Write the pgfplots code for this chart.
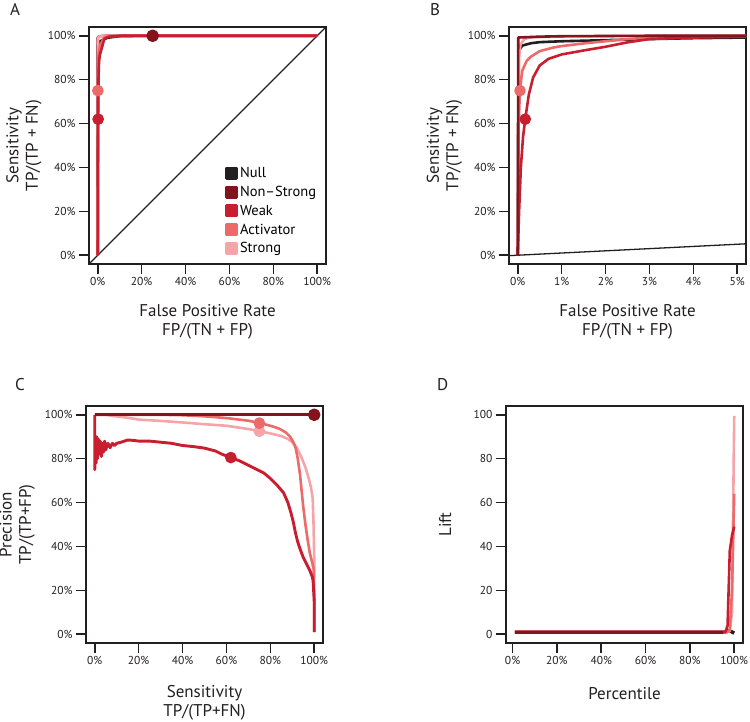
\documentclass[border=0pt]{standalone}
\usepackage{fontspec}
\setmainfont{PT Sans}
\usepackage{pgfplots}
\usepackage{pgfplotstable}
\pgfplotsset{compat=1.18}

\definecolor{nullc}{RGB}{35,31,32}
\definecolor{nonstrong}{RGB}{130,20,30}
\definecolor{weak}{RGB}{200,30,48}
\definecolor{activator}{RGB}{236,106,106}
\definecolor{strong}{RGB}{245,165,170}

% ROC curves, x = FPR (%), y = sensitivity (%)
\pgfplotstableread{
x y
0 0
0.02 93
0.1 95.5
0.3 96.6
0.5 97.1
1 97.5
2 98
3 98.5
4 98.9
5.2 99.2
10 99.8
20 100
100 100
}\rocnull
\pgfplotstableread{
x y
0 0
0.01 99.2
0.5 99.6
1 99.8
3 100
100 100
}\rocnonstrong
\pgfplotstableread{
x y
0 0
0.03 20
0.07 40
0.12 54
0.17 62
0.25 73
0.35 81
0.5 86.5
0.7 89.5
1.0 91.5
1.5 93.3
2 95
2.5 97
3 98.5
4 99.2
5.2 99.6
10 100
100 100
}\rocweak
\pgfplotstableread{
x y
0 0
0.02 60
0.05 75
0.1 84
0.2 88.5
0.3 90.5
0.5 93
0.8 94.6
1 95.3
1.5 96.5
2 97.5
2.5 98.5
3 99.2
4 99.6
5.2 99.8
10 100
100 100
}\rocactivator
\pgfplotstableread{
x y
0 0
0.03 90
0.06 96
0.15 98.5
0.3 99.3
1 99.7
3 100
100 100
}\rocstrong

% precision-recall, x = sensitivity (%), y = precision (%)
\pgfplotstableread{
x y
0 100
0 75
0.3 88
0.6 78
0.9 90
1.2 80
1.6 89
2 82
2.5 88
3 81
3.5 87
4 83
4.5 88
5 84
6 87
7 85
8 87
9 86
10 87
12 87.5
15 88.5
18 88.3
20 88
25 88
30 87.5
35 87
40 86
45 85.5
50 84.8
55 83.5
58 82
62 80.5
66 79
70 77
74 75
77 73.5
80 71
83 68
86 64.5
88 60
89.5 55
90.5 51
91.5 46
92.5 42
93.5 39
95 35
96.5 32
98 29
99.2 26
99.5 24
100 15
100 1
}\prweak
\pgfplotstableread{
x y
0 100
30 100
40 99.8
50 99.3
60 98.5
70 97.3
75 96.3
80 95
84 93.7
87 92
89 90
90.5 87.5
91.5 85
92.5 80
93.5 73
94.3 65
95 58
96 50
97 43
98 37
99 33
99.7 30
100 20
100 1
}\practivator
\pgfplotstableread{
x y
0 100
5 100
8 99.5
12 99
16 98.5
20 97.8
25 97.5
30 97.2
40 96.5
50 95.7
60 95
70 93.5
75 92.5
80 91.5
85 90.3
88 89
90 87.5
92 85
94 81
96 76
97.5 71
98.5 67
99.3 62
99.7 50
100 35
100 25
}\prstrong

\pgfplotsset{
  rpanel/.style={
    scale only axis, width=237pt, height=237pt,
    axis line style={line width=1.7pt, color=nullc},
    tick align=outside, tick pos=left, major tick length=10pt,
    every tick/.style={line width=1.6pt, color=nullc},
    tick label style={font=\fontsize{11.5}{13}\selectfont, color=nullc},
    /pgf/number format/assume math mode=true,
    label style={font=\fontsize{17}{19.5}\selectfont, align=center, color=nullc},
    ymin=-4, ymax=104,
    every axis plot/.append style={line width=2.6pt, line join=round},
    legend image code/.code={\fill[#1] (0pt,-5.25pt) rectangle (10.5pt,5.25pt);},
  },
  pcty/.style={ytick={0,20,...,100}, yticklabels={0\%,20\%,40\%,60\%,80\%,100\%}},
  pctx/.style={xtick={0,20,...,100}, xticklabels={0\%,20\%,40\%,60\%,80\%,100\%}},
}

\begin{document}
\begin{tikzpicture}
\useasboundingbox (0,0) rectangle (750pt,721pt);

% ---- A: ROC full range
\begin{axis}[rpanel, pcty, pctx, at={(89pt,457pt)}, anchor=south west,
  xmin=-4, xmax=104,
  xlabel={False Positive Rate\\FP/(TN + FP)},
  ylabel={Sensitivity\\TP/(TP + FN)},
  xlabel style={at={(axis description cs:0.5,-0.245)}, anchor=center},
  ylabel style={at={(axis description cs:-0.274,0.5)}, anchor=center},
  legend style={at={(axis description cs:0.56,0.425)}, anchor=north west,
    draw=none, fill=none, font=\fontsize{14.5}{17}\selectfont, row sep=3pt},
  legend cell align=left]
\addplot[line width=1.3pt, color=nullc, forget plot] coordinates {(-4,-4) (104,104)};
\addplot[nullc, forget plot] table {\rocnull};
\addplot[nonstrong, forget plot] table {\rocnonstrong};
\addplot[strong, forget plot] table {\rocstrong};
\addplot[activator, forget plot] table {\rocactivator};
\addplot[weak, forget plot] table {\rocweak};
\addplot[only marks, mark=*, mark size=5pt, nonstrong, forget plot] coordinates {(25,100)};
\addplot[only marks, mark=*, mark size=4.5pt, activator, forget plot] coordinates {(0.05,75)};
\addplot[only marks, mark=*, mark size=4.5pt, weak, forget plot] coordinates {(0.17,62)};
\addlegendimage{nullc}\addlegendentry{Null}
\addlegendimage{nonstrong}\addlegendentry{Non–Strong}
\addlegendimage{weak}\addlegendentry{Weak}
\addlegendimage{activator}\addlegendentry{Activator}
\addlegendimage{strong}\addlegendentry{Strong}
\end{axis}

% ---- B: ROC zoom
\begin{axis}[rpanel, pcty, at={(509pt,457pt)}, anchor=south west,
  xmin=-0.2, xmax=5.2,
  xtick={0,1,2,3,4,5}, xticklabels={0\%,1\%,2\%,3\%,4\%,5\%},
  xlabel={False Positive Rate\\FP/(TN + FP)},
  ylabel={Sensitivity\\TP/(TP + FN)},
  xlabel style={at={(axis description cs:0.5,-0.245)}, anchor=center},
  ylabel style={at={(axis description cs:-0.272,0.5)}, anchor=center}]
\addplot[line width=1.3pt, color=nullc] coordinates {(-4,-4) (104,104)};
\addplot[nullc] table {\rocnull};
\addplot[strong] table {\rocstrong};
\addplot[activator] table {\rocactivator};
\addplot[weak] table {\rocweak};
\addplot[nonstrong] table {\rocnonstrong};
\addplot[only marks, mark=*, mark size=4.5pt, activator] coordinates {(0.05,75)};
\addplot[only marks, mark=*, mark size=4.5pt, weak] coordinates {(0.17,62)};
\end{axis}

% ---- C: precision-recall
\begin{axis}[rpanel, pcty, pctx, at={(86pt,78pt)}, anchor=south west,
  xmin=-4, xmax=104,
  xlabel={Sensitivity\\TP/(TP+FN)},
  ylabel={Precision\\TP/(TP+FP)},
  xlabel style={at={(axis description cs:0.5,-0.253)}, anchor=center},
  ylabel style={at={(axis description cs:-0.29,0.5)}, anchor=center}]
\addplot[nullc] coordinates {(0,100) (100,100)};
\addplot[strong] table {\prstrong};
\addplot[activator] table {\practivator};
\addplot[weak, line width=2.9pt] table {\prweak};
\addplot[nonstrong] coordinates {(0,100) (100,100)};
\addplot[only marks, mark=*, mark size=4.5pt, strong] coordinates {(75,92.5)};
\addplot[only marks, mark=*, mark size=4.5pt, activator] coordinates {(75,96.2)};
\addplot[only marks, mark=*, mark size=4.5pt, weak] coordinates {(62,80.5)};
\addplot[only marks, mark=*, mark size=5pt, nonstrong] coordinates {(100,100)};
\end{axis}

% ---- D: lift
\begin{axis}[rpanel, pctx, at={(506pt,78pt)}, anchor=south west,
  xmin=-2.96, xmax=103.96,
  ytick={0,20,...,100},
  xlabel={Percentile}, ylabel={Lift},
  xlabel style={at={(axis description cs:0.5,-0.215)}, anchor=center},
  ylabel style={at={(axis description cs:-0.257,0.5)}, anchor=center}]
\addplot[nullc, line width=3.4pt] coordinates {(1,1) (96,1) (97.5,1.8) (100,0.5)};
\addplot[strong] coordinates {(1,1) (97,1) (98,1.5) (99,10) (100,99.5)};
\addplot[activator] coordinates {(1,1) (97,1) (98,2) (99,20) (100,64)};
\addplot[weak] coordinates {(1,1) (96,1) (97,4) (98,38) (99,45) (100,49)};
\addplot[nonstrong, line width=3.4pt] coordinates {(1,0.7) (95,0.7)};
\end{axis}

\node[anchor=north west, inner sep=0pt, font=\fontsize{17}{17}\selectfont, color=nullc] at (10pt,718pt) {A};
\node[anchor=north west, inner sep=0pt, font=\fontsize{17}{17}\selectfont, color=nullc] at (430pt,718pt) {B};
\node[anchor=north west, inner sep=0pt, font=\fontsize{17}{17}\selectfont, color=nullc] at (15pt,343pt) {C};
\node[anchor=north west, inner sep=0pt, font=\fontsize{17}{17}\selectfont, color=nullc] at (437pt,343pt) {D};
\end{tikzpicture}
\end{document}
